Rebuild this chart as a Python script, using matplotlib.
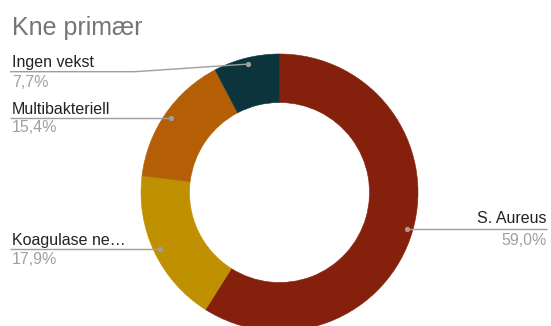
import numpy as np
import matplotlib
matplotlib.use("Agg")
import matplotlib.pyplot as plt

# Data
categories = ["S. Aureus", "Koagulase ne…", "Multibakteriell", "Ingen vekst"]
counts = [23, 7, 6, 3]
colors = ["#85200C", "#BF9000", "#B45F06", "#0C343D"]
title = "Kne primær"

plt.rcParams["font.family"] = ["Liberation Sans", "DejaVu Sans"]

W, H = 551, 326
fig = plt.figure(figsize=(W / 100, H / 100), dpi=100)
ax = fig.add_axes([0, 0, 1, 1])

def Y(y):
    return H - y

cx, cy, R = 279.5, Y(192.5), 138.5
wedges, _ = ax.pie(counts, colors=colors, startangle=90, counterclock=False,
                   center=(cx, cy), radius=R,
                   wedgeprops=dict(width=R - 90, linewidth=0.4))
for w in wedges:
    w.set_edgecolor(w.get_facecolor())
ax.set_xlim(0, W)
ax.set_ylim(0, H)
ax.set_aspect("equal")
ax.axis("off")

total = sum(counts)
pcts = [f"{c / total * 100:.1f}".replace(".", ",") + "%" for c in counts]

fs = 11.5
line_c = "#9E9E9E"
label_c = "#222222"
pct_c = "#A0A0A0"

# label layout: (text x, name baseline, line y, pct baseline, align, elbow x)
layout = {
    "S. Aureus": (546.7, 223.3, 229.3, 245.0, "right", None),
    "Koagulase ne…": (12, 245.0, 249.3, 264.0, "left", None),
    "Multibakteriell": (12, 114.0, 117.5, 132.0, "left", None),
    "Ingen vekst": (12, 67.0, 71.7, 86.7, "left", 135),
}

for w, name, pct in zip(wedges, categories, pcts):
    mid = np.deg2rad((w.theta1 + w.theta2) / 2)
    dx = cx + 0.955 * R * np.cos(mid)
    dy = cy + 0.955 * R * np.sin(mid)
    tx, nb, ly, pb, ha, elbow = layout[name]
    end = 10 if ha == "left" else tx
    if elbow is not None:
        xs = [dx, elbow, end]
        ys = [dy, Y(ly), Y(ly)]
    else:
        xs = [dx, end]
        ys = [Y(ly), Y(ly)]
        dy = Y(ly)
    ax.plot(xs, ys, color=line_c, lw=1.0, solid_capstyle="butt", zorder=3)
    ax.plot([dx], [dy], "o", color=line_c, ms=3.8, mec="none", zorder=4)
    ax.text(tx, Y(nb), name, ha=ha, va="baseline", fontsize=fs, color=label_c)
    ax.text(tx, Y(pb), pct, ha=ha, va="baseline", fontsize=fs, color=pct_c)

ax.text(12.5, Y(35), title, ha="left", va="baseline", fontsize=18, color="#757575")

fig.savefig("out.png", dpi=100)
